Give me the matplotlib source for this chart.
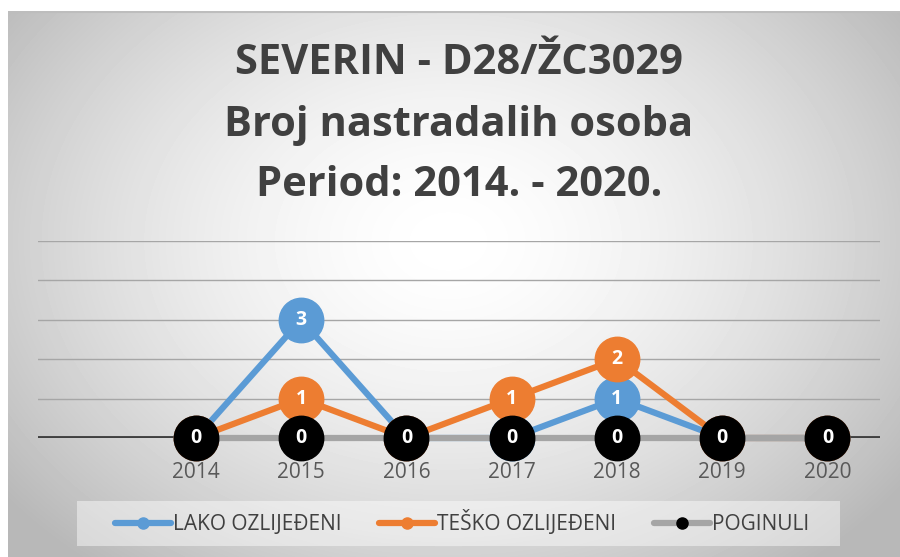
import numpy as np
import matplotlib
matplotlib.use('Agg')
import matplotlib.pyplot as plt
from matplotlib.lines import Line2D
from matplotlib.patches import Rectangle

# data
years = ['', '2014', '2015', '2016', '2017', '2018', '2019', '2020']
lako = [None, 0, 3, 0, 0, 1, 0, 0]
tesko = [None, 0, 1, 0, 1, 2, 0, 0]
poginuli = [None, 0, 0, 0, 0, 0, 0, 0]

series = [
    ('LAKO OZLIJEĐENI', lako, '#5b9bd5', '#5b9bd5'),
    ('TEŠKO OZLIJEĐENI', tesko, '#ed7d31', '#ed7d31'),
    ('POGINULI', poginuli, '#a5a5a5', '#000000'),
]

plt.rcParams['font.family'] = ['Open Sans', 'DejaVu Sans']

fig = plt.figure(figsize=(9, 5.57), dpi=100)

# background with radial gradient
bg = fig.add_axes([8/900, 0, 1 - 8/900, 1 - 11/557])
bg.set_axis_off()
yy, xx = np.mgrid[0:546, 0:892]
cx, cy = 440, 230
r = np.sqrt(((xx - cx) / 560.0) ** 2 + ((yy - cy) / 420.0) ** 2)
val = np.clip(1 - 0.28 * r ** 1.6, 0.72, 1.0)
bg.imshow(val, cmap='gray', vmin=0, vmax=1, aspect='auto', interpolation='bilinear')
bg.axhline(0, color='#bdbdbd', lw=1.5)

ax = fig.add_axes([38/900, 119/557, 842/900, 197/557])
ax.patch.set_alpha(0)
x = np.arange(len(years))
ax.set_xlim(-0.5, len(years) - 0.5)
ax.set_ylim(0, 5)
for g in range(1, 6):
    ax.axhline(g, color='#a6a6a6', lw=1, zorder=1)
ax.axhline(0, color='#404040', lw=2.8, zorder=2)

for i, (name, vals, lc, mc) in enumerate(series):
    xs = [xi for xi, v in zip(x, vals) if v is not None]
    vs = [v for v in vals if v is not None]
    ax.plot(xs, vs, color=lc, lw=4.5, zorder=3 + i, clip_on=False,
            solid_capstyle='round')
    ax.plot(xs, vs, 'o', color=mc, ms=32, mec=mc, zorder=3 + i, clip_on=False)
    for xi, v in zip(xs, vs):
        ax.text(xi, v, str(v), color='white', fontsize=14, fontweight='bold',
                ha='center', va='center', zorder=3 + i, clip_on=False)

ax.set_xticks(x)
ax.set_xticklabels(years, fontsize=15, color='#595959')
ax.tick_params(axis='x', length=0, pad=17)
ax.set_yticks([])
for s in ax.spines.values():
    s.set_visible(False)

title_lines = ['SEVERIN - D28/ŽC3029', 'Broj nastradalih osoba', 'Period: 2014. - 2020.']
for ypx, line in zip([64, 126, 185], title_lines):
    fig.text(459/900, 1 - ypx/557, line, ha='center', va='center',
             fontsize=30, fontweight='bold', color='#404040')

# legend box
fig.patches.append(Rectangle((77/900, 1 - 546/557), 763/900, 45/557,
                             transform=fig.transFigure, facecolor='white',
                             alpha=0.45, edgecolor='none', zorder=1))
handles = [Line2D([], [], color=lc, lw=4.5, marker='o', ms=8, mfc=mc, mec=mc,
                  solid_capstyle='round')
           for name, vals, lc, mc in series]
leg = fig.legend(handles, [s[0] for s in series], loc='center',
                 bbox_to_anchor=(462/900, 1 - 523/557), ncol=3, frameon=False,
                 fontsize=15, handlelength=2.7, columnspacing=1.8,
                 handletextpad=0.1, borderpad=0.5)
for t in leg.get_texts():
    t.set_color('#404040')

fig.savefig('out.png', dpi=100)
